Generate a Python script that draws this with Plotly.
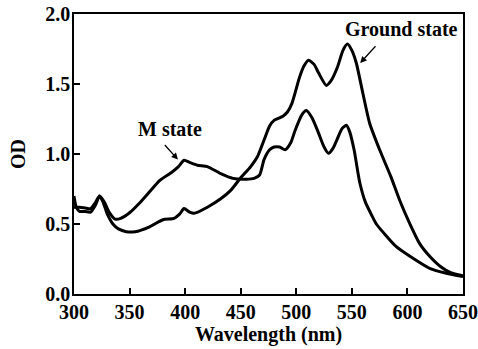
import plotly.graph_objects as go

# Ground state spectrum
ground_nm = [300, 302, 305, 310, 315, 319, 323, 326, 330, 335, 340, 347, 355, 368, 380, 390, 395, 399,
             404, 408, 420, 432, 441, 450, 459, 465, 471, 476, 480, 488, 492, 496, 503, 507, 511, 516,
             520, 527, 531, 537, 542, 546, 550, 554, 560, 566, 575, 585, 593, 602, 611, 620, 630, 639, 650]
ground_od = [0.70, 0.62, 0.59, 0.59, 0.585, 0.63, 0.70, 0.66, 0.57, 0.50, 0.465, 0.445, 0.445, 0.48, 0.53,
             0.54, 0.57, 0.61, 0.585, 0.576, 0.62, 0.68, 0.74, 0.83, 0.91, 0.98, 1.10, 1.20, 1.24, 1.27,
             1.30, 1.36, 1.55, 1.63, 1.67, 1.64, 1.58, 1.49, 1.52, 1.62, 1.74, 1.785, 1.74, 1.65, 1.43,
             1.22, 1.03, 0.84, 0.67, 0.505, 0.36, 0.27, 0.195, 0.152, 0.13]

# M state spectrum
m_nm = [300, 305, 310, 315, 319, 323, 327, 332, 337, 342, 350, 359, 368, 377, 388, 394, 399, 404, 411,
        420, 432, 443, 455, 462, 467, 471, 476, 480, 485, 490, 495, 499, 505, 509, 514, 519, 525, 529,
        533, 537, 541, 545, 548, 552, 557, 562, 567, 572, 579, 590, 605, 620, 635, 650]
m_od = [0.62, 0.62, 0.615, 0.61, 0.65, 0.70, 0.66, 0.58, 0.535, 0.54, 0.58, 0.65, 0.73, 0.81, 0.87, 0.91,
        0.955, 0.94, 0.92, 0.91, 0.86, 0.826, 0.82, 0.826, 0.85, 0.96, 1.03, 1.05, 1.05, 1.03, 1.08, 1.17,
        1.28, 1.31, 1.26, 1.17, 1.05, 1.005, 1.04, 1.11, 1.18, 1.205, 1.16, 1.03, 0.80, 0.66, 0.576, 0.50,
        0.433, 0.338, 0.255, 0.183, 0.148, 0.125]

x_ticks = [300, 350, 400, 450, 500, 550, 600, 650]
y_ticks = [0.0, 0.5, 1.0, 1.5, 2.0]

FONT = "Liberation Serif"

fig = go.Figure()
for xs, ys, name in [(ground_nm, ground_od, "Ground state"), (m_nm, m_od, "M state")]:
    fig.add_trace(go.Scatter(x=xs, y=ys, mode="lines", name=name,
                             line=dict(color="black", width=3, shape="spline", smoothing=0.6),
                             showlegend=False))

ann_font = dict(family=FONT, size=20, color="black", weight="bold")
fig.add_annotation(x=386.5, y=1.18, text="M state", showarrow=False, font=ann_font, xref="x", yref="y")
fig.add_annotation(x=393.5, y=0.96, ax=380.5, ay=1.075, axref="x", ayref="y", xref="x", yref="y",
                   text="", showarrow=True, arrowhead=2, arrowsize=1, arrowwidth=1.3, arrowcolor="black")
fig.add_annotation(x=594.5, y=1.89, text="Ground state", showarrow=False, font=ann_font, xref="x", yref="y")
fig.add_annotation(x=557.5, y=1.65, ax=572.5, ay=1.78, axref="x", ayref="y", xref="x", yref="y",
                   text="", showarrow=True, arrowhead=2, arrowsize=1, arrowwidth=1.3, arrowcolor="black")

tick_font = dict(family=FONT, size=20, color="black", weight="bold")
title_font = dict(family=FONT, size=20, color="black", weight="bold")
fig.update_xaxes(range=[300, 650], tickvals=x_ticks, ticktext=[str(v) for v in x_ticks],
                 ticks="inside", ticklen=6, tickwidth=1.5, tickcolor="black",
                 showline=True, linecolor="black", linewidth=1.5, mirror=True, automargin=False,
                 showgrid=False, zeroline=False, tickfont=tick_font, ticklabeloverflow="allow",
                 ticklabelstandoff=-1,
                 title=dict(text="Wavelength (nm)", font=title_font, standoff=1))
fig.update_yaxes(range=[0, 2.0], tickvals=y_ticks, ticktext=[f"{v:.1f}" for v in y_ticks],
                 ticks="inside", ticklen=6, tickwidth=1.5, tickcolor="black",
                 showline=True, linecolor="black", linewidth=1.5, mirror=True, automargin=False,
                 showgrid=False, zeroline=False, tickfont=tick_font, ticklabeloverflow="allow",
                 ticklabelstandoff=-2,
                 title=dict(text="OD", font=title_font, standoff=14))
fig.update_layout(width=478, height=349, margin=dict(l=74, r=15, t=14, b=55, autoexpand=False),
                  paper_bgcolor="white", plot_bgcolor="white")
# remove the browser's default 8 px body margin so the figure fills the window exactly
fig.write_html("out.html", config={"displayModeBar": False},
               post_script="document.body.style.margin='0';document.body.style.overflow='hidden';")
